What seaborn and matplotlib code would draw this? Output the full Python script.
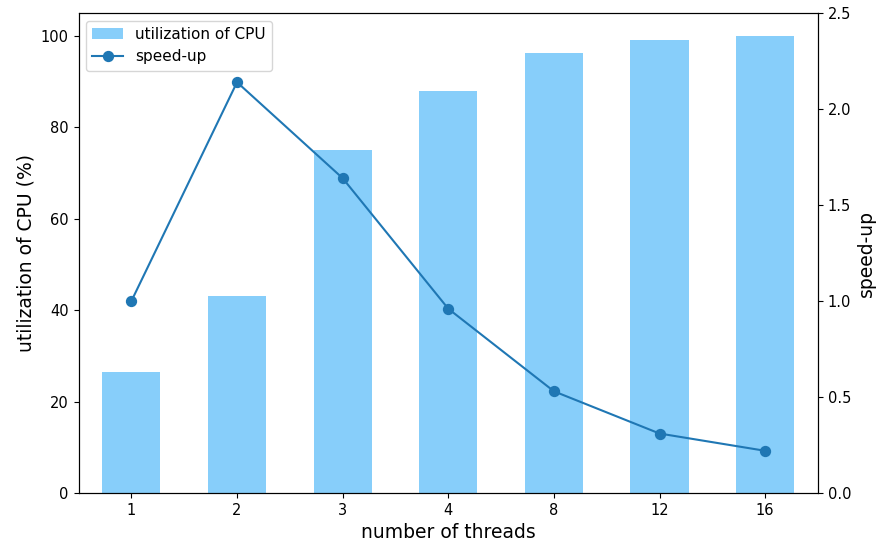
import numpy as np
import pandas as pd
from matplotlib import pyplot as plt
import seaborn as sns

threads = ["1", "2", "3", "4", "8", "12", "16"]
cpu_util = [26.4, 43.2, 75.0, 88.0, 96.2, 99.2, 100.0]
speedup = [1.0, 2.14, 1.64, 0.96, 0.53, 0.31, 0.22]

bar_color = "#87cefa"
line_color = "#1f77b4"

df = pd.DataFrame({"threads": threads, "cpu": cpu_util, "speedup": speedup})

fig, ax = plt.subplots(figsize=(8.93, 5.46), dpi=100)
fig.subplots_adjust(left=0.088, right=0.916, top=0.976, bottom=0.097)

sns.barplot(data=df, x="threads", y="cpu", order=threads, color=bar_color,
            saturation=1, width=0.55, ax=ax)
ax.set_ylim(0, 105)
ax.set_xlabel("number of threads", fontsize=13.5)
ax.set_ylabel("utilization of CPU (%)", fontsize=13.5)
ax.tick_params(labelsize=10.5)

ax2 = ax.twinx()
sns.pointplot(data=df, x="threads", y="speedup", order=threads, color=line_color,
              markers="o", markersize=7, linewidth=1.5, errorbar=None, ax=ax2)
ax2.set_ylim(0, 2.5)
ax2.set_ylabel("speed-up", fontsize=13.5)
ax2.tick_params(labelsize=10.5)
ax.set_xlim(-0.5, len(threads) - 0.5)

bar_handle = ax.containers[0]
line_handle = ax2.lines[0]
ax2.legend([bar_handle, line_handle], ["utilization of CPU", "speed-up"],
           loc="upper left", fontsize=11)

fig.savefig("out.png", dpi=100)
